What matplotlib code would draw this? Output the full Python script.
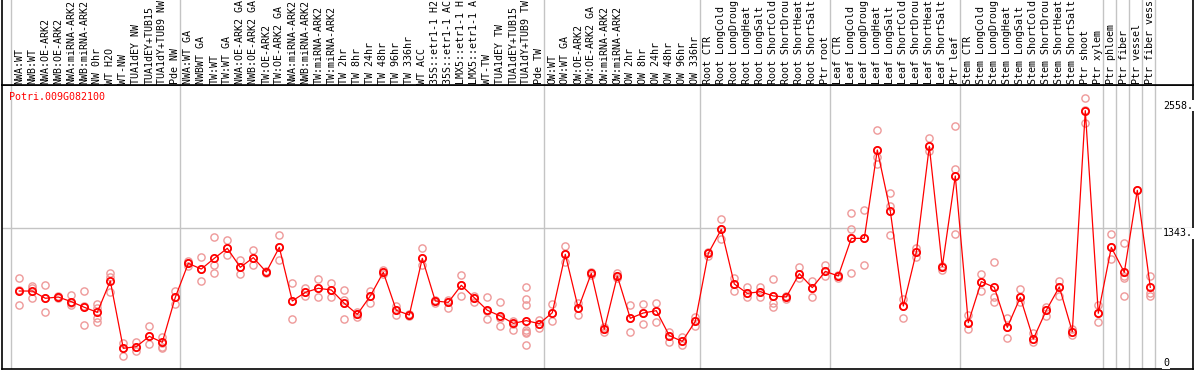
import matplotlib
matplotlib.use("Agg")
import matplotlib.pyplot as plt

gene = "Potri.009G082100"

labels = [
    "NWA:WT", "NWB:WT", "NWA:OE-ARK2", "NWB:OE-ARK2", "NWA:miRNA-ARK2", "NWB:miRNA-ARK2",
    "NW 0hr", "WT H2O", "WT-NW", "TUA1dEY NW", "TUA1dEY+TUB15", "TUA1dY+TUB9 NW", "Pde NW",
    "NWA:WT GA", "NWBWT GA", "TW:WT", "TW:WT GA", "NWA:OE-ARK2 GA", "NWB:OE-ARK2 GA",
    "TW:OE-ARK2", "TW:OE-ARK2 GA", "NWA:miRNA-ARK2", "NWB:miRNA-ARK2", "TW:miRNA-ARK2",
    "TW:miRNA-ARK2", "TW 2hr", "TW 8hr", "TW 24hr", "TW 48hr", "TW 96hr", "TW 336hr",
    "WT ACC", "35S::etr1-1 H2", "35S::etr1-1 AC", "LMX5::etr1-1 H", "LMX5::etr1-1 A",
    "WT-TW", "TUA1dEY TW", "TUA1dEY+TUB15", "TUA1dY+TUB9 TW", "Pde TW",
    "OW:WT", "OW:WT GA", "OW:OE-ARK2", "OW:OE-ARK2 GA", "OW:miRNA-ARK2", "OW:miRNA-ARK2",
    "OW 2hr", "OW 8hr", "OW 24hr", "OW 48hr", "OW 96hr", "OW 336hr",
    "Root CTR", "Root LongCold", "Root LongDroug", "Root LongHeat", "Root LongSalt",
    "Root ShortCold", "Root ShortDrou", "Root ShortHeat", "Root ShortSalt", "Ptr root",
    "Leaf CTR", "Leaf LongCold", "Leaf LongDroug", "Leaf LongHeat", "Leaf LongSalt",
    "Leaf ShortCold", "Leaf ShortDrou", "Leaf ShortHeat", "Leaf ShortSalt", "Ptr leaf",
    "Stem CTR", "Stem LongCold", "Stem LongDroug", "Stem LongHeat", "Stem LongSalt",
    "Stem ShortCold", "Stem ShortDrou", "Stem ShortHeat", "Stem ShortSalt",
    "Ptr shoot", "Ptr xylem", "Ptr phloem", "Ptr fiber", "Ptr vessel", "Ptr fiber vess",
]

means = [
    695, 695, 620, 633, 585, 527, 475, 799, 103, 120, 227, 165, 630,
    981, 922, 1033, 1136, 940, 1040, 892, 1146, 592, 681, 723, 706, 568, 454, 644,
    888, 496, 447, 1033, 592, 578, 754, 626, 496, 437, 361, 389, 358,
    471, 1074, 516, 878, 299, 850, 413, 468, 492, 234, 175, 382,
    1084, 1332, 768, 671, 688, 644, 633, 874, 730, 898,
    850, 1239, 1239, 2152, 1522, 540, 1095, 2190, 947, 1883,
    368, 792, 733, 320, 630, 199, 496, 737, 275, 2558, 465, 1146, 888, 1735, 733,
]

replicates = [
    [826, 705, 550], [750, 730, 619], [757, 619, 481], [647, 633, 619],
    [654, 568, 550], [695, 543, 344], [557, 523, 413, 378], [877, 843, 688],
    [154, 103, 27], [172, 120, 79], [337, 227, 144], [223, 154, 120, 110],
    [695, 630, 561],
    [1005, 981, 957], [1043, 922, 802], [1250, 964, 878], [1222, 1136, 1067],
    [1015, 940, 867], [1119, 1040, 960], [902, 892, 881], [1274, 1146, 1015],
    [774, 592, 402], [730, 681, 647], [816, 723, 633], [774, 706, 633],
    [706, 602, 568, 402], [475, 454, 423], [695, 644, 568], [912, 888, 867],
    [543, 496, 447], [454, 447, 434], [1136, 1033, 964], [602, 592, 568],
    [602, 578, 523], [857, 754, 644], [647, 619, 585], [633, 489, 402],
    [578, 413, 337], [389, 351, 292], [737, 613, 550, 292, 275, 258, 138],
    [396, 358, 310],
    [561, 471, 389], [1157, 1074, 998], [568, 516, 447], [895, 878, 860],
    [327, 299, 268], [878, 850, 826], [550, 413, 275], [561, 468, 351],
    [575, 492, 378], [275, 234, 165], [223, 175, 138], [430, 382, 337],
    [1102, 1084, 1060], [1436, 1332, 1236], [826, 768, 699], [740, 671, 637],
    [733, 688, 637], [816, 644, 568, 534], [647, 633, 613], [940, 874, 826],
    [799, 730, 630], [964, 898, 850],
    [860, 850, 833], [1498, 1336, 1239, 878], [1529, 1239, 960],
    [2355, 2152, 2083, 2011], [1704, 1573, 1522, 1274], [616, 540, 413],
    [1136, 1095, 1043], [2272, 2190, 2141], [953, 947, 912],
    [2396, 1952, 1883, 1280],
    [447, 368, 303], [871, 792, 699], [995, 630, 585], [413, 320, 206],
    [716, 630, 578], [258, 199, 165], [534, 496, 440], [799, 737, 647],
    [299, 275, 241], [2686, 2560, 2427], [550, 465, 378], [1284, 1146, 1026],
    [1191, 850, 833, 644], [1735], [854, 678, 647],
]

group_starts = [0, 13, 41, 53, 63, 73, 84, 85, 86, 87, 88]
axis_values = [2558, 1343, 0]
axis_texts = ["2558.", "1343.", "0"]

W, H = 1194, 370
fig = plt.figure(figsize=(W / 100, H / 100), dpi=100)
mono = "DejaVu Sans Mono"
fs = 7.2
red = "#ff0000"
pink = "#ee9999"
grey = "#c4c4c4"

# x mapping: column i centre at pixel 19.3 + 13*i ; axes span pixels 2..1193
x0_px, x1_px = 2, 1193
xl = ((x0_px - 19.3) / 13, (x1_px - 19.3) / 13)
# y mapping: value 0 at pixel 358.3, 0.0968 px per unit; plot spans pixels 85..369
ylo = (358.3 - 369) / 0.0968
yhi = (358.3 - 85) / 0.0968

ax = fig.add_axes([x0_px / W, (H - 369) / H, (x1_px - x0_px) / W, (369 - 85) / H])
hd = fig.add_axes([x0_px / W, (H - 85) / H, (x1_px - x0_px) / W, 85 / H])

for a in (ax, hd):
    a.set_xlim(*xl)
    a.set_xticks([])
    a.set_yticks([])
    for s in a.spines.values():
        s.set_color("black")
        s.set_linewidth(1.2)
    for g in group_starts:
        a.axvline(g - 8 / 13, color=grey, lw=1.0, zorder=0)

ax.set_ylim(ylo, yhi)
hd.set_ylim(0, 85)
hd.spines["top"].set_visible(False)

ax.axhline(axis_values[1], color=grey, lw=1.0, zorder=0)

xs = list(range(len(means)))
for i, reps in enumerate(replicates):
    ax.plot([i] * len(reps), reps, linestyle="none", marker="o", markersize=5.2,
            markerfacecolor="none", markeredgecolor=pink, markeredgewidth=1.0, zorder=2)
ax.plot(xs, means, color=red, lw=0.9, zorder=3)
ax.plot(xs, means, linestyle="none", marker="o", markersize=5.2,
        markerfacecolor="none", markeredgecolor=red, markeredgewidth=1.3, zorder=4)

for i, lab in enumerate(labels):
    hd.text(i, 1.5, lab, rotation=90, ha="center", va="bottom",
            family=mono, fontsize=fs, color="black")

ax.text((9.3 - x0_px) / (x1_px - x0_px), (369 - 97.3) / 284, gene,
        transform=ax.transAxes, ha="left", va="center", family=mono,
        fontsize=fs, color=red)

xt = (1163 - 19.3) / 13
for v, t in zip(axis_values, axis_texts):
    va = "bottom" if v == max(axis_values) else "top"
    ax.text(xt, v, t, ha="left", va=va, family=mono, fontsize=fs, color="black",
            bbox=dict(facecolor="white", edgecolor="none", pad=0.5))

fig.savefig("out.png", dpi=100)
